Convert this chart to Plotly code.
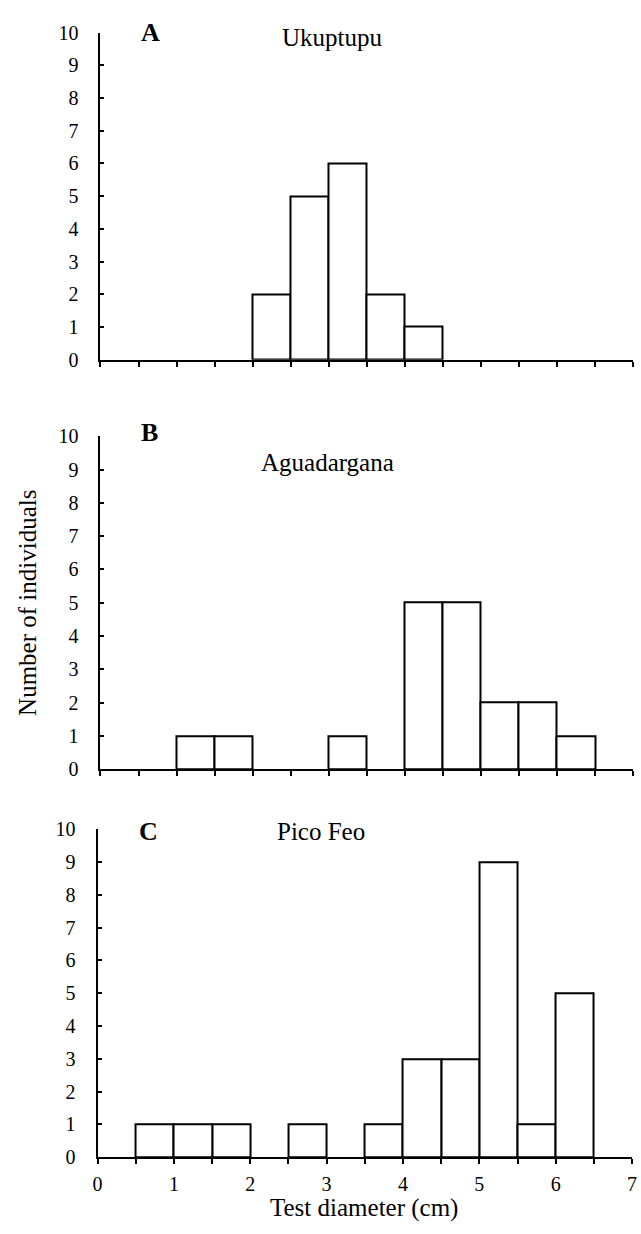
import plotly.graph_objects as go

# Data: histogram bins of width 0.5 cm (lower edges) and counts per site
bin_lower = [0.0, 0.5, 1.0, 1.5, 2.0, 2.5, 3.0, 3.5, 4.0, 4.5, 5.0, 5.5, 6.0, 6.5]
counts_ukuptupu = [0, 0, 0, 0, 2, 5, 6, 2, 1, 0, 0, 0, 0, 0]
counts_aguadargana = [0, 0, 1, 1, 0, 0, 1, 0, 5, 5, 2, 2, 1, 0]
counts_picofeo = [0, 1, 1, 1, 0, 1, 0, 1, 3, 3, 9, 1, 5, 0]
bin_width = 0.5

panel_letters = ["A", "B", "C"]
site_names = ["Ukuptupu", "Aguadargana", "Pico Feo"]
x_tick_vals = [0, 0.5, 1, 1.5, 2, 2.5, 3, 3.5, 4, 4.5, 5, 5.5, 6, 6.5, 7]
x_tick_text = ["0", "", "1", "", "2", "", "3", "", "4", "", "5", "", "6", "", "7"]
y_tick_vals = list(range(0, 11))

W, H = 641, 1234
# panel pixel boxes: (left, right, top, bottom)
boxes = [(97, 638, 22, 355), (97, 638, 433, 772), (94, 637, 833, 1167)]
# label positions (px)
letter_pos = [(148, 22), (147, 429), (146, 835)]
site_pos = [(333, 27), (328, 460), (321, 835)]

FONT = "Liberation Serif, Times New Roman, serif"
fig = go.Figure()
all_counts = [counts_ukuptupu, counts_aguadargana, counts_picofeo]

layout = dict(
    width=W, height=H, margin=dict(l=0, r=0, t=0, b=0),
    paper_bgcolor="white", plot_bgcolor="white", showlegend=False,
    font=dict(family=FONT, color="black", size=20),
)
annotations = []
for i, counts in enumerate(all_counts):
    idx = "" if i == 0 else str(i + 1)
    xs = [b + bin_width / 2 for b, c in zip(bin_lower, counts) if c > 0]
    ys = [c for c in counts if c > 0]
    fig.add_trace(go.Bar(
        x=xs, y=ys, width=bin_width,
        marker=dict(color="white", line=dict(color="black", width=2)),
        xaxis="x" + idx, yaxis="y" + idx, hoverinfo="x+y",
    ))
    l, r, t, b = boxes[i]
    layout["xaxis" + idx] = dict(
        domain=[l / W, r / W], range=[0, 7], anchor="y" + idx,
        showline=True, linecolor="black", linewidth=2, showgrid=False, zeroline=False,
        ticks="outside", ticklen=5, tickwidth=2, tickcolor="black",
        tickvals=x_tick_vals, ticktext=x_tick_text if i == 2 else [""] * len(x_tick_vals),
        showticklabels=(i == 2), tickfont=dict(size=20, family=FONT),
        ticklabelstandoff=3, ticklabeloverflow="allow",
    )
    layout["yaxis" + idx] = dict(
        domain=[1 - b / H, 1 - t / H], range=[0, 10], anchor="x" + idx,
        showline=True, linecolor="black", linewidth=2, showgrid=False, zeroline=False,
        ticks="inside", ticklen=4, tickwidth=2, tickcolor="black",
        tickvals=y_tick_vals, tickfont=dict(size=20, family=FONT),
        ticklabelstandoff=16,
    )
    lx, ly = letter_pos[i]
    annotations.append(dict(text="<b>" + panel_letters[i] + "</b>", x=lx / W, y=1 - ly / H,
                            xref="paper", yref="paper", showarrow=False,
                            xanchor="center", yanchor="middle", font=dict(size=26, family=FONT)))
    sx, sy = site_pos[i]
    annotations.append(dict(text=site_names[i], x=sx / W, y=1 - sy / H,
                            xref="paper", yref="paper", showarrow=False,
                            xanchor="center", yanchor="middle", font=dict(size=25, family=FONT)))

annotations.append(dict(text="Number of individuals", x=23 / W, y=1 - 603 / H, xref="paper", yref="paper",
                        showarrow=False, textangle=-90, xanchor="center", yanchor="middle",
                        font=dict(size=25, family=FONT)))
annotations.append(dict(text="Test diameter (cm)", x=365 / W, y=0, xref="paper", yref="paper",
                        showarrow=False, xanchor="center", yanchor="bottom", borderpad=0,
                        font=dict(size=25, family=FONT)))
layout["annotations"] = annotations
layout["bargap"] = 0
fig.update_layout(**layout)
fig.write_html("out.html")
